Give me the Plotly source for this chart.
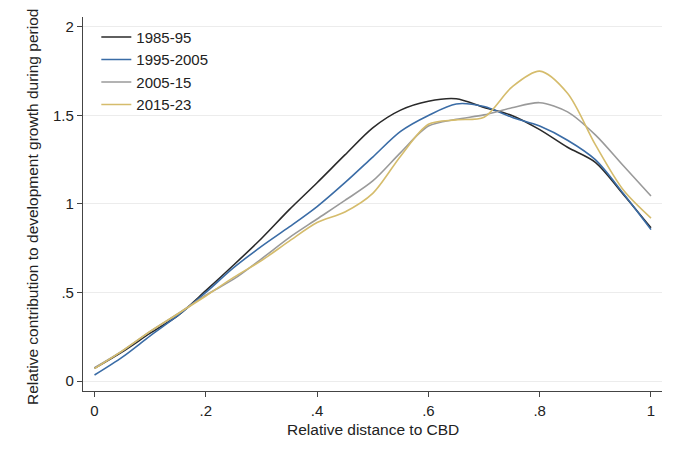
import plotly.graph_objects as go

# Relative distance to CBD (shared x grid)
distance = [0.0, 0.05, 0.1, 0.15, 0.2, 0.25, 0.3, 0.35, 0.4, 0.45, 0.5,
            0.55, 0.6, 0.65, 0.7, 0.75, 0.8, 0.85, 0.9, 0.95, 1.0]

period_labels = ["1985-95", "1995-2005", "2005-15", "2015-23"]

vals_1985_95 = [0.072, 0.165, 0.27, 0.37, 0.51, 0.655, 0.805, 0.968, 1.12, 1.277, 1.43,
                1.53, 1.58, 1.594, 1.545, 1.50, 1.42, 1.32, 1.235, 1.055, 0.865]
vals_1995_2005 = [0.034, 0.135, 0.255, 0.37, 0.50, 0.64, 0.76, 0.87, 0.985, 1.12, 1.265,
                  1.41, 1.50, 1.565, 1.55, 1.49, 1.44, 1.36, 1.25, 1.06, 0.855]
vals_2005_15 = [0.075, 0.17, 0.28, 0.38, 0.485, 0.575, 0.69, 0.81, 0.915, 1.02, 1.13,
                1.29, 1.44, 1.478, 1.503, 1.543, 1.572, 1.52, 1.39, 1.217, 1.045]
vals_2015_23 = [0.07, 0.17, 0.28, 0.38, 0.48, 0.585, 0.68, 0.79, 0.895, 0.955, 1.06,
                1.27, 1.45, 1.475, 1.49, 1.66, 1.75, 1.625, 1.335, 1.08, 0.92]

series_values = [vals_1985_95, vals_1995_2005, vals_2005_15, vals_2015_23]
colors = ["#2a2a2a", "#3a6ca6", "#9a9a9a", "#d5bc6c"]

x_tickvals = [0, 0.2, 0.4, 0.6, 0.8, 1]
x_ticktext = ["0", ".2", ".4", ".6", ".8", "1"]
y_tickvals = [0, 0.5, 1, 1.5, 2]
y_ticktext = ["0", ".5", "1", "1.5", "2"]

font_family = "Liberation Sans, Arial, sans-serif"

fig = go.Figure()
for name, vals, col in zip(period_labels, series_values, colors):
    fig.add_trace(go.Scatter(
        x=distance, y=vals, name=name, mode="lines",
        line=dict(color=col, width=1.6, shape="spline", smoothing=0.85),
    ))

fig.update_layout(
    width=670, height=443,
    margin=dict(l=75, r=16, t=9, b=60),
    paper_bgcolor="white", plot_bgcolor="white",
    font=dict(family=font_family, size=15, color="#222"),
    showlegend=True,
    legend=dict(
        x=0.023, y=0.99, xanchor="left", yanchor="top",
        bgcolor="rgba(0,0,0,0)", borderwidth=0,
        font=dict(size=15, color="#222"),
        tracegroupgap=0,
    ),
    xaxis=dict(
        range=[-0.0207, 1.0198],
        tickvals=x_tickvals, ticktext=x_ticktext,
        showgrid=False, zeroline=False,
        showline=True, linecolor="#444", linewidth=1.2,
        ticks="outside", ticklen=5, tickcolor="#444", tickwidth=1.2,
        ticklabelstandoff=1,
        tickfont=dict(size=15, color="#222"),
    ),
    yaxis=dict(
        range=[-0.0565, 2.056],
        tickvals=y_tickvals, ticktext=y_ticktext,
        showgrid=True, gridcolor="#ececec", gridwidth=1,
        zeroline=False,
        showline=True, linecolor="#444", linewidth=1.2,
        ticks="outside", ticklen=5, tickcolor="#444", tickwidth=1.2,
        tickfont=dict(size=15, color="#222"),
    ),
    annotations=[
        dict(text="Relative distance to CBD", xref="paper", yref="paper",
             x=0.5, y=-0.102, xanchor="center", yanchor="middle",
             showarrow=False, font=dict(size=15.5, color="#222")),
        dict(text="Relative contribution to development growth during period",
             xref="paper", yref="paper", x=-0.0864, y=0.492,
             xanchor="center", yanchor="middle", textangle=-90,
             showarrow=False, font=dict(size=15.5, color="#222")),
    ],
)

fig.write_html("out.html")
